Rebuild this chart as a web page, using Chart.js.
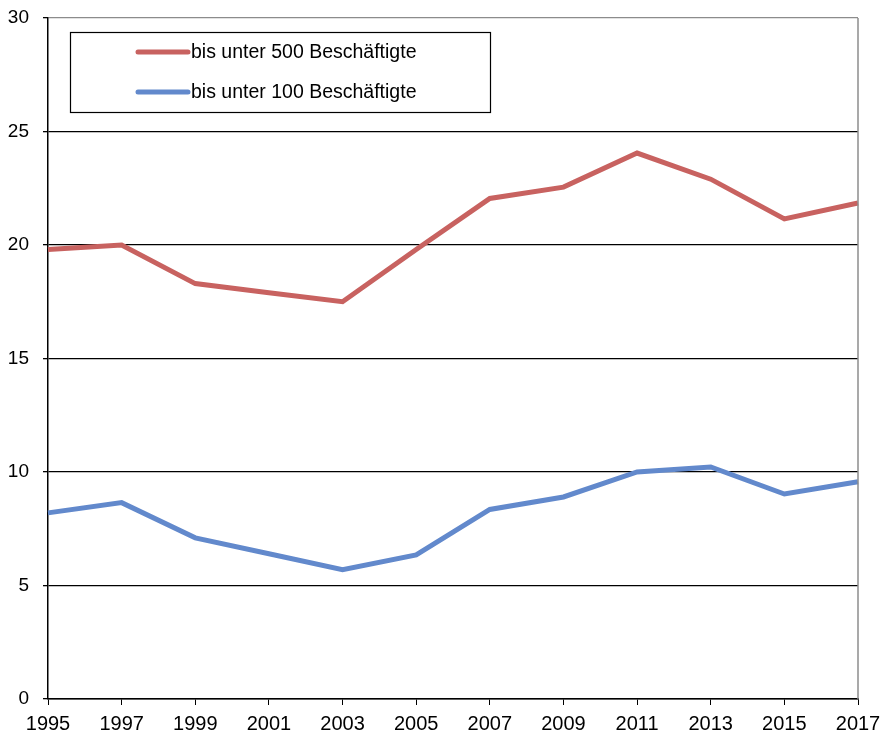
<!DOCTYPE html>
<html>
<head>
<meta charset="utf-8">
<script src="https://cdn.jsdelivr.net/npm/chart.js@4"></script>
<style>
  html, body { margin: 0; padding: 0; background: #fff; }
  #wrap { width: 881px; height: 735px; }
</style>
</head>
<body>
<div id="wrap"><canvas id="chart" width="881" height="735"></canvas></div>
<script>
const years = ["1995", "1997", "1999", "2001", "2003", "2005", "2007", "2009", "2011", "2013", "2015", "2017"];
const under500 = [19.8, 20.0, 18.3, 17.9, 17.5, 19.8, 22.05, 22.55, 24.05, 22.9, 21.15, 21.85];
const under100 = [8.2, 8.65, 7.1, 6.4, 5.7, 6.35, 8.35, 8.9, 10.0, 10.22, 9.03, 9.57];
const seriesLabels = ["bis unter 500 Beschäftigte", "bis unter 100 Beschäftigte"];
const yTicks = [0, 5, 10, 15, 20, 25, 30];

const FONT = "'Liberation Sans', Arial, sans-serif";

// legend box + right frame line, drawn inside the plot area like the original
const framePlugin = {
    id: "frame",
    afterDraw(chart) {
        const { ctx, chartArea: a } = chart;
        ctx.save();
        ctx.strokeStyle = "#8c8c8c";
        ctx.lineWidth = 1.5;
        ctx.beginPath();
        ctx.moveTo(a.right, a.top);
        ctx.lineTo(a.right, a.bottom);
        ctx.stroke();

        const bx = 70, by = 32, bw = 420, bh = 80;
        ctx.fillStyle = "#fff";
        ctx.fillRect(bx, by, bw, bh);
        ctx.strokeStyle = "#000";
        ctx.lineWidth = 1.2;
        ctx.strokeRect(bx + 0.5, by + 0.5, bw, bh);

        ctx.font = "19.5px " + FONT;
        ctx.textBaseline = "middle";
        chart.data.datasets.forEach((ds, i) => {
            const ly = by + 20 + i * 40;
            ctx.strokeStyle = ds.borderColor;
            ctx.lineWidth = 5;
            ctx.lineCap = "round";
            ctx.beginPath();
            ctx.moveTo(138, ly);
            ctx.lineTo(188, ly);
            ctx.stroke();
            ctx.fillStyle = "#000";
            ctx.fillText(ds.label, 191, ly + 1);
        });
        ctx.restore();
    }
};

new Chart(document.getElementById("chart"), {
    type: "line",
    data: {
        labels: years,
        datasets: [
            {
                label: seriesLabels[0],
                data: under500,
                borderColor: "rgb(200, 98, 96)",
                borderWidth: 5,
                pointRadius: 0,
                tension: 0,
                borderJoinStyle: "miter"
            },
            {
                label: seriesLabels[1],
                data: under100,
                borderColor: "rgb(98, 137, 204)",
                borderWidth: 5,
                pointRadius: 0,
                tension: 0,
                borderJoinStyle: "miter"
            }
        ]
    },
    options: {
        responsive: false,
        animation: false,
        layout: { padding: { top: 18, right: 23, left: 0, bottom: 0 } },
        plugins: {
            legend: { display: false },
            tooltip: { enabled: false }
        },
        scales: {
            x: {
                offset: false,
                grid: {
                    drawOnChartArea: false,
                    drawTicks: true,
                    tickLength: 6,
                    color: "#000"
                },
                border: { color: "#000", width: 1.5 },
                ticks: {
                    color: "#000",
                    font: { family: FONT, size: 20 },
                    maxRotation: 0,
                    autoSkip: false,
                    padding: 7
                },
                afterFit(scale) {
                    scale.height = 36;
                    scale.paddingLeft = 0;
                    scale.paddingRight = 0;
                }
            },
            y: {
                min: 0,
                max: 30,
                afterBuildTicks(scale) { scale.ticks = yTicks.map(v => ({ value: v })); },
                grid: {
                    color: ctx => (ctx.tick && ctx.tick.value === 30 ? "#8c8c8c" : "#000"),
                    lineWidth: 1.3,
                    drawTicks: true,
                    tickLength: 5,
                    tickColor: "#000"
                },
                border: { color: "#000", width: 1.5 },
                ticks: {
                    color: "#000",
                    font: { family: FONT, size: 19 },
                    padding: 14
                },
                afterFit(scale) {
                    scale.width = 48;
                    scale.paddingTop = 0;
                    scale.paddingBottom = 0;
                }
            }
        }
    },
    plugins: [framePlugin]
});
</script>
</body>
</html>
